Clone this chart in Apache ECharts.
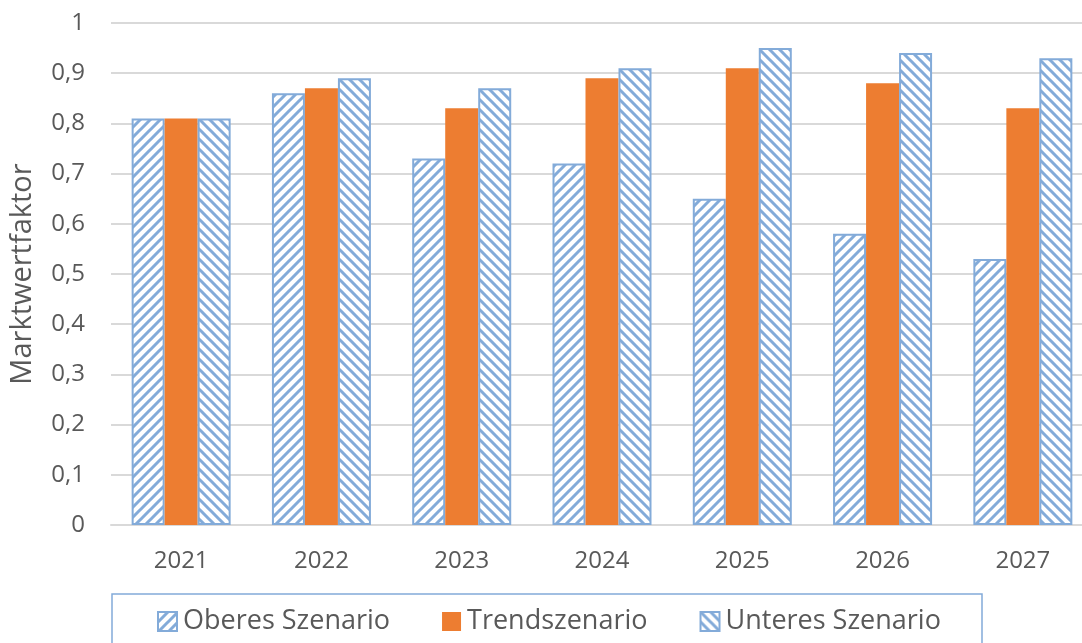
<!DOCTYPE html>
<html>
<head>
<meta charset="utf-8">
<script src="https://cdn.jsdelivr.net/npm/echarts@6/dist/echarts.min.js"></script>
<style>
	html, body { margin: 0; padding: 0; background: #fff; }
	#chart { width: 1082px; height: 643px; }
</style>
</head>
<body>
<div id="chart"></div>
<script>
	// Daten
	var years = ['2021', '2022', '2023', '2024', '2025', '2026', '2027'];
	var oberes = [0.81, 0.86, 0.73, 0.72, 0.65, 0.58, 0.53];
	var trend = [0.81, 0.87, 0.83, 0.89, 0.91, 0.88, 0.83];
	var unteres = [0.81, 0.89, 0.87, 0.91, 0.95, 0.94, 0.93];
	var seriesNames = ['Oberes Szenario', 'Trendszenario', 'Unteres Szenario'];

	var blue = '#83ABD9';
	var orange = '#ED7D31';
	var font = '"Open Sans", sans-serif';

	// Schraffur als Canvas-Muster
	function hatch(dir) {
		var c = document.createElement('canvas');
		c.width = 10; c.height = 10;
		var ctx = c.getContext('2d');
		ctx.fillStyle = '#fff';
		ctx.fillRect(0, 0, 10, 10);
		ctx.strokeStyle = blue;
		ctx.lineWidth = 3;
		ctx.beginPath();
		if (dir === '/') {
			ctx.moveTo(-5, 5); ctx.lineTo(5, -5);
			ctx.moveTo(0, 10); ctx.lineTo(10, 0);
			ctx.moveTo(5, 15); ctx.lineTo(15, 5);
		} else {
			ctx.moveTo(-5, 5); ctx.lineTo(5, 15);
			ctx.moveTo(0, 0); ctx.lineTo(10, 10);
			ctx.moveTo(5, -5); ctx.lineTo(15, 5);
		}
		ctx.stroke();
		return { image: c, repeat: 'repeat' };
	}

	var chart = echarts.init(document.getElementById('chart'));

	var option = {
		animation: false,
		textStyle: { fontFamily: font },
		grid: { left: 111, top: 23, width: 982, bottom: 118, outerBoundsMode: 'none', containLabel: false },
		graphic: [{
			type: 'rect',
			shape: { x: 112, y: 594, width: 870, height: 60 },
			style: { fill: 'none', stroke: blue, lineWidth: 1.5 }
		}],
		legend: {
			data: seriesNames,
			left: 152,
			top: 603,
			itemWidth: 19,
			itemHeight: 19,
			itemGap: 52,
			icon: 'rect',
			textStyle: { fontSize: 27, color: '#595959', fontFamily: font, padding: [0, 0, 0, 1] }
		},
		xAxis: {
			type: 'category',
			data: years,
			axisLine: { lineStyle: { color: '#D9D9D9', width: 2 } },
			axisTick: { show: false },
			axisLabel: { fontSize: 24, color: '#595959', margin: 24 }
		},
		yAxis: {
			type: 'value',
			min: 0,
			max: 1,
			interval: 0.1,
			name: 'Marktwertfaktor',
			nameLocation: 'middle',
			nameGap: 74,
			nameTextStyle: { fontSize: 29, color: '#595959' },
			axisLabel: {
				fontSize: 24,
				color: '#595959',
				margin: 26,
				formatter: function (v) { return String(Math.round(v * 10) / 10).replace('.', ','); }
			},
			splitLine: { lineStyle: { color: '#D9D9D9', width: 2 } }
		},
		series: [
			{
				name: seriesNames[0], type: 'bar', data: oberes,
				barWidth: 33, barGap: '0%',
				itemStyle: { color: hatch('/'), borderColor: blue, borderWidth: 2 }
			},
			{
				name: seriesNames[1], type: 'bar', data: trend,
				barWidth: 33, barGap: '0%',
				itemStyle: { color: orange }
			},
			{
				name: seriesNames[2], type: 'bar', data: unteres,
				barWidth: 33, barGap: '0%',
				itemStyle: { color: hatch('\\'), borderColor: blue, borderWidth: 2 }
			}
		]
	};

	chart.setOption(option);
</script>
</body>
</html>
